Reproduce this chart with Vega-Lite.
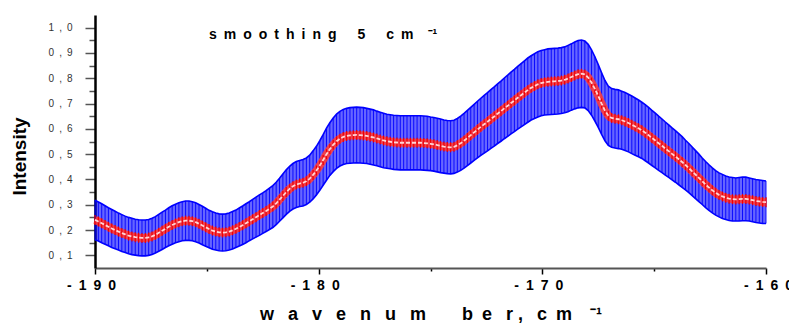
{
  "$schema": "https://vega.github.io/schema/vega-lite/v6.json",
  "width": 671,
  "height": 253,
  "autosize": {"type": "none"},
  "padding": {"left": 95, "top": 15, "right": 23, "bottom": 59},
  "config": {"font": "Liberation Sans", "view": {"stroke": null}},
  "data": {"values": [
    {"x":-190,"c":0.240,"e":0.078},{"x":-189.85,"c":0.234,"e":0.077},{"x":-189.7,"c":0.227,"e":0.077},{"x":-189.55,"c":0.220,"e":0.076},{"x":-189.4,"c":0.213,"e":0.075},
    {"x":-189.25,"c":0.206,"e":0.075},{"x":-189.1,"c":0.200,"e":0.074},{"x":-188.95,"c":0.194,"e":0.073},{"x":-188.8,"c":0.188,"e":0.073},{"x":-188.65,"c":0.183,"e":0.072},
    {"x":-188.5,"c":0.178,"e":0.072},{"x":-188.35,"c":0.175,"e":0.072},{"x":-188.2,"c":0.172,"e":0.071},{"x":-188.05,"c":0.170,"e":0.071},{"x":-187.9,"c":0.169,"e":0.071},
    {"x":-187.75,"c":0.169,"e":0.071},{"x":-187.6,"c":0.171,"e":0.071},{"x":-187.45,"c":0.175,"e":0.072},{"x":-187.3,"c":0.181,"e":0.072},{"x":-187.15,"c":0.189,"e":0.073},
    {"x":-187,"c":0.197,"e":0.074},{"x":-186.85,"c":0.205,"e":0.074},{"x":-186.7,"c":0.213,"e":0.075},{"x":-186.55,"c":0.220,"e":0.076},{"x":-186.4,"c":0.226,"e":0.076},
    {"x":-186.25,"c":0.231,"e":0.077},{"x":-186.1,"c":0.235,"e":0.077},{"x":-185.95,"c":0.237,"e":0.078},{"x":-185.8,"c":0.237,"e":0.078},{"x":-185.65,"c":0.235,"e":0.077},
    {"x":-185.5,"c":0.231,"e":0.077},{"x":-185.35,"c":0.225,"e":0.076},{"x":-185.2,"c":0.218,"e":0.076},{"x":-185.05,"c":0.211,"e":0.075},{"x":-184.9,"c":0.204,"e":0.074},
    {"x":-184.75,"c":0.198,"e":0.074},{"x":-184.6,"c":0.194,"e":0.073},{"x":-184.45,"c":0.191,"e":0.073},{"x":-184.3,"c":0.190,"e":0.073},{"x":-184.15,"c":0.191,"e":0.073},
    {"x":-184,"c":0.194,"e":0.073},{"x":-183.85,"c":0.199,"e":0.074},{"x":-183.7,"c":0.205,"e":0.074},{"x":-183.55,"c":0.212,"e":0.075},{"x":-183.4,"c":0.219,"e":0.076},
    {"x":-183.25,"c":0.227,"e":0.077},{"x":-183.1,"c":0.235,"e":0.077},{"x":-182.95,"c":0.243,"e":0.078},{"x":-182.8,"c":0.251,"e":0.079},{"x":-182.65,"c":0.259,"e":0.080},
    {"x":-182.5,"c":0.267,"e":0.080},{"x":-182.35,"c":0.275,"e":0.081},{"x":-182.2,"c":0.284,"e":0.082},{"x":-182.05,"c":0.293,"e":0.083},{"x":-181.9,"c":0.305,"e":0.084},
    {"x":-181.75,"c":0.320,"e":0.085},{"x":-181.6,"c":0.335,"e":0.087},{"x":-181.45,"c":0.350,"e":0.088},{"x":-181.3,"c":0.363,"e":0.089},{"x":-181.15,"c":0.373,"e":0.090},
    {"x":-181,"c":0.380,"e":0.091},{"x":-180.85,"c":0.384,"e":0.091},{"x":-180.7,"c":0.387,"e":0.092},{"x":-180.55,"c":0.393,"e":0.092},{"x":-180.4,"c":0.403,"e":0.093},
    {"x":-180.25,"c":0.418,"e":0.095},{"x":-180.1,"c":0.435,"e":0.096},{"x":-179.95,"c":0.455,"e":0.098},{"x":-179.8,"c":0.477,"e":0.100},{"x":-179.65,"c":0.500,"e":0.103},
    {"x":-179.5,"c":0.520,"e":0.104},{"x":-179.35,"c":0.537,"e":0.106},{"x":-179.2,"c":0.551,"e":0.107},{"x":-179.05,"c":0.561,"e":0.108},{"x":-178.9,"c":0.568,"e":0.109},
    {"x":-178.75,"c":0.572,"e":0.109},{"x":-178.6,"c":0.574,"e":0.110},{"x":-178.45,"c":0.575,"e":0.110},{"x":-178.3,"c":0.576,"e":0.110},{"x":-178.15,"c":0.575,"e":0.110},
    {"x":-178,"c":0.574,"e":0.110},{"x":-177.85,"c":0.572,"e":0.109},{"x":-177.7,"c":0.569,"e":0.109},{"x":-177.55,"c":0.566,"e":0.109},{"x":-177.4,"c":0.562,"e":0.108},
    {"x":-177.25,"c":0.558,"e":0.108},{"x":-177.1,"c":0.554,"e":0.108},{"x":-176.95,"c":0.551,"e":0.107},{"x":-176.8,"c":0.549,"e":0.107},{"x":-176.65,"c":0.547,"e":0.107},
    {"x":-176.5,"c":0.546,"e":0.107},{"x":-176.35,"c":0.545,"e":0.107},{"x":-176.2,"c":0.545,"e":0.107},{"x":-176.05,"c":0.545,"e":0.107},{"x":-175.9,"c":0.545,"e":0.107},
    {"x":-175.75,"c":0.545,"e":0.107},{"x":-175.6,"c":0.545,"e":0.107},{"x":-175.45,"c":0.545,"e":0.107},{"x":-175.3,"c":0.544,"e":0.107},{"x":-175.15,"c":0.543,"e":0.107},
    {"x":-175,"c":0.541,"e":0.106},{"x":-174.85,"c":0.539,"e":0.106},{"x":-174.7,"c":0.536,"e":0.106},{"x":-174.55,"c":0.533,"e":0.106},{"x":-174.4,"c":0.530,"e":0.105},
    {"x":-174.25,"c":0.528,"e":0.105},{"x":-174.1,"c":0.527,"e":0.105},{"x":-173.95,"c":0.529,"e":0.105},{"x":-173.8,"c":0.535,"e":0.106},{"x":-173.65,"c":0.543,"e":0.107},
    {"x":-173.5,"c":0.553,"e":0.108},{"x":-173.35,"c":0.564,"e":0.109},{"x":-173.2,"c":0.575,"e":0.110},{"x":-173.05,"c":0.586,"e":0.111},{"x":-172.9,"c":0.597,"e":0.112},
    {"x":-172.75,"c":0.608,"e":0.113},{"x":-172.6,"c":0.618,"e":0.114},{"x":-172.45,"c":0.628,"e":0.115},{"x":-172.3,"c":0.639,"e":0.116},{"x":-172.15,"c":0.649,"e":0.117},
    {"x":-172,"c":0.660,"e":0.118},{"x":-171.85,"c":0.670,"e":0.119},{"x":-171.7,"c":0.681,"e":0.120},{"x":-171.55,"c":0.691,"e":0.121},{"x":-171.4,"c":0.702,"e":0.122},
    {"x":-171.25,"c":0.712,"e":0.123},{"x":-171.1,"c":0.723,"e":0.124},{"x":-170.95,"c":0.733,"e":0.125},{"x":-170.8,"c":0.743,"e":0.126},{"x":-170.65,"c":0.753,"e":0.127},
    {"x":-170.5,"c":0.762,"e":0.127},{"x":-170.35,"c":0.769,"e":0.128},{"x":-170.2,"c":0.776,"e":0.129},{"x":-170.05,"c":0.781,"e":0.129},{"x":-169.9,"c":0.784,"e":0.129},
    {"x":-169.75,"c":0.786,"e":0.130},{"x":-169.6,"c":0.787,"e":0.130},{"x":-169.45,"c":0.788,"e":0.130},{"x":-169.3,"c":0.789,"e":0.130},{"x":-169.15,"c":0.791,"e":0.130},
    {"x":-169,"c":0.794,"e":0.130},{"x":-168.85,"c":0.799,"e":0.131},{"x":-168.7,"c":0.805,"e":0.131},{"x":-168.55,"c":0.811,"e":0.132},{"x":-168.4,"c":0.816,"e":0.133},
    {"x":-168.25,"c":0.818,"e":0.133},{"x":-168.1,"c":0.815,"e":0.132},{"x":-167.95,"c":0.803,"e":0.131},{"x":-167.8,"c":0.783,"e":0.129},{"x":-167.65,"c":0.758,"e":0.127},
    {"x":-167.5,"c":0.730,"e":0.124},{"x":-167.35,"c":0.700,"e":0.122},{"x":-167.2,"c":0.672,"e":0.119},{"x":-167.05,"c":0.652,"e":0.117},{"x":-166.9,"c":0.643,"e":0.116},
    {"x":-166.75,"c":0.640,"e":0.116},{"x":-166.6,"c":0.638,"e":0.116},{"x":-166.45,"c":0.634,"e":0.115},{"x":-166.3,"c":0.629,"e":0.115},{"x":-166.15,"c":0.623,"e":0.114},
    {"x":-166,"c":0.616,"e":0.114},{"x":-165.85,"c":0.609,"e":0.113},{"x":-165.7,"c":0.602,"e":0.112},{"x":-165.55,"c":0.594,"e":0.111},{"x":-165.4,"c":0.585,"e":0.111},
    {"x":-165.25,"c":0.575,"e":0.110},{"x":-165.1,"c":0.564,"e":0.109},{"x":-164.95,"c":0.554,"e":0.108},{"x":-164.8,"c":0.543,"e":0.107},{"x":-164.65,"c":0.533,"e":0.106},
    {"x":-164.5,"c":0.522,"e":0.105},{"x":-164.35,"c":0.512,"e":0.104},{"x":-164.2,"c":0.501,"e":0.103},{"x":-164.05,"c":0.491,"e":0.102},{"x":-163.9,"c":0.480,"e":0.101},
    {"x":-163.75,"c":0.469,"e":0.100},{"x":-163.6,"c":0.457,"e":0.098},{"x":-163.45,"c":0.445,"e":0.097},{"x":-163.3,"c":0.432,"e":0.096},{"x":-163.15,"c":0.419,"e":0.095},
    {"x":-163,"c":0.406,"e":0.094},{"x":-162.85,"c":0.393,"e":0.092},{"x":-162.7,"c":0.380,"e":0.091},{"x":-162.55,"c":0.368,"e":0.090},{"x":-162.4,"c":0.357,"e":0.089},
    {"x":-162.25,"c":0.347,"e":0.088},{"x":-162.1,"c":0.339,"e":0.087},{"x":-161.95,"c":0.333,"e":0.087},{"x":-161.8,"c":0.328,"e":0.086},{"x":-161.65,"c":0.324,"e":0.086},
    {"x":-161.5,"c":0.322,"e":0.086},{"x":-161.35,"c":0.321,"e":0.085},{"x":-161.2,"c":0.322,"e":0.086},{"x":-161.05,"c":0.323,"e":0.086},{"x":-160.9,"c":0.323,"e":0.086},
    {"x":-160.75,"c":0.321,"e":0.085},{"x":-160.6,"c":0.318,"e":0.085},{"x":-160.45,"c":0.315,"e":0.085},{"x":-160.3,"c":0.313,"e":0.085},{"x":-160.15,"c":0.311,"e":0.085},
    {"x":-160,"c":0.310,"e":0.084}
  ]},
  "encoding": {
    "x": {
      "field": "x", "type": "quantitative",
      "scale": {"domain": [-190, -160], "nice": false, "zero": false},
      "axis": {
        "values": [-190, -185, -180, -175, -170, -165, -160],
        "labelExpr": "abs(datum.value % 10) < 0.01 ? '-\u2002' + join(split(format(abs(datum.value), 'd'), ''), '\u2002') : ''",
        "labelFont": "Liberation Sans", "labelFontSize": 14, "labelFontWeight": "bold", "labelColor": "#000000",
        "labelPadding": 4, "labelFlush": false, "labelOverlap": false,
        "labelOffset": {"condition": {"test": "datum.value == -160", "value": 2}, "value": -4},
        "tickSize": {"condition": {"test": "abs(datum.value % 10) < 0.01", "value": 6}, "value": 3},
        "tickColor": "#000000", "tickWidth": 1.5,
        "domainColor": "#555555", "domainWidth": 2,
        "grid": false,
        "title": "w\u2002\u00a0a\u2002\u00a0v\u2002\u00a0e\u2002\u00a0n\u2002\u00a0u\u2002\u00a0m\u2003\u2003b\u2002e\u2002\u00a0r\u00a0,\u2002\u00a0c\u2002m\u2003\u207b\u00b9",
        "titleFont": "Liberation Sans", "titleFontSize": 18, "titleFontWeight": "bold", "titleColor": "#000000",
        "titlePadding": 13
      }
    },
    "y": {
      "field": "c", "type": "quantitative",
      "scale": {"domain": [0.05, 1.05], "nice": false, "zero": false},
      "axis": {
        "values": [0.1, 0.15, 0.2, 0.25, 0.3, 0.35, 0.4, 0.45, 0.5, 0.55, 0.6, 0.65, 0.7, 0.75, 0.8, 0.85, 0.9, 0.95, 1.0],
        "labelExpr": "abs(datum.value*10 - round(datum.value*10)) < 0.01 ? replace(format(datum.value, '.1f'), '.', '\u2002,\u2002') : ''",
        "labelFont": "Liberation Sans", "labelFontSize": 10, "labelColor": "#333333",
        "labelPadding": 13, "labelOverlap": false,
        "tickSize": {"condition": {"test": "abs(datum.value*10 - round(datum.value*10)) < 0.01", "value": 10}, "value": 6},
        "tickColor": "#555555", "tickWidth": 1.5,
        "domainColor": "#000000", "domainWidth": 2.5,
        "grid": false,
        "title": "Intensity",
        "titleFont": "Liberation Sans", "titleFontSize": 19, "titleFontWeight": "bold", "titleColor": "#000000",
        "titlePadding": 19, "titleY": 141
      }
    }
  },
  "layer": [
    {
      "mark": {"type": "errorband", "color": "#0000ff", "band": {"opacity": 0.6}, "borders": {"strokeWidth": 1.6, "opacity": 1}},
      "encoding": {"yError": {"field": "e"}}
    },
    {
      "mark": {"type": "errorbar", "color": "#0000ff", "ticks": false, "rule": {"strokeWidth": 1, "opacity": 0.9}},
      "encoding": {"yError": {"field": "e"}}
    },
    {
      "mark": {"type": "line", "color": "#ff3c3c", "strokeWidth": 8, "opacity": 0.9},
      "encoding": {}
    },
    {
      "mark": {"type": "tick", "orient": "vertical", "size": 10, "thickness": 1.2, "color": "#ee0000", "opacity": 1},
      "encoding": {}
    },
    {
      "mark": {"type": "line", "color": "#ffd6d6", "strokeWidth": 1.8, "strokeDash": [4, 2]},
      "encoding": {}
    }
  ],
  "title": {
    "text": "s\u2002m\u2002o\u2002o\u2002t\u2002h\u2002i\u2002n\u2002g\u2003\u20025\u2003\u2002c\u2002m\u2003\u207b\u00b9",
    "anchor": "start", "frame": "group", "orient": "top",
    "dx": 114, "offset": -38, "baseline": "alphabetic",
    "font": "Liberation Sans", "fontSize": 14, "fontWeight": "bold", "color": "#000000"
  }
}
